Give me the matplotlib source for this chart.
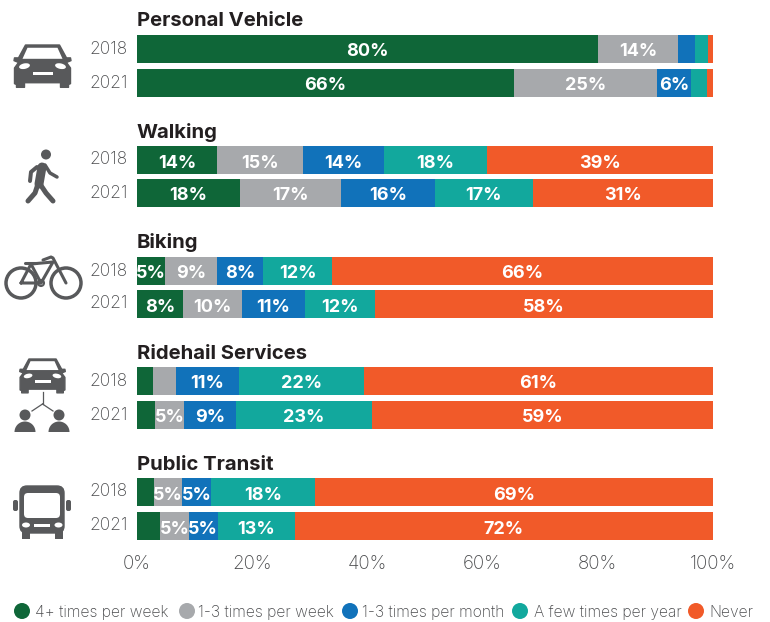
import matplotlib
matplotlib.use("Agg")
import matplotlib.pyplot as plt
from matplotlib.patches import Circle, Polygon, FancyBboxPatch, Ellipse, Wedge, Rectangle
from matplotlib.transforms import ScaledTranslation

W, H = 770, 622
modes = ["Personal Vehicle", "Walking", "Biking", "Ridehail Services", "Public Transit"]
years = ["2018", "2021"]
series = ["4+ times per week", "1-3 times per week", "1-3 times per month", "A few times per year", "Never"]
colors = ["#0f6638", "#a7a9ac", "#1172ba", "#12a89d", "#f15a29"]

# share of respondents per row, in series order
personal_2018 = [80.0, 13.9, 3.0, 2.3, 0.8]
personal_2021 = [65.5, 24.8, 5.9, 2.8, 1.0]
walking_2018 = [13.9, 14.9, 14.1, 17.9, 39.2]
walking_2021 = [17.9, 17.5, 16.3, 17.05, 31.25]
biking_2018 = [4.9, 9.0, 8.0, 12.0, 66.1]
biking_2021 = [8.0, 10.2, 11.0, 12.1, 58.7]
ridehail_2018 = [2.8, 4.0, 10.9, 21.7, 60.6]
ridehail_2021 = [3.1, 5.1, 9.0, 23.6, 59.2]
transit_2018 = [3.0, 4.8, 5.0, 18.1, 69.1]
transit_2021 = [4.0, 5.0, 5.0, 13.4, 72.6]

# printed labels (blank where the source prints none)
labels_personal_2018 = ["80%", "14%", "", "", ""]
labels_personal_2021 = ["66%", "25%", "6%", "", ""]
labels_walking_2018 = ["14%", "15%", "14%", "18%", "39%"]
labels_walking_2021 = ["18%", "17%", "16%", "17%", "31%"]
labels_biking_2018 = ["5%", "9%", "8%", "12%", "66%"]
labels_biking_2021 = ["8%", "10%", "11%", "12%", "58%"]
labels_ridehail_2018 = ["", "", "11%", "22%", "61%"]
labels_ridehail_2021 = ["", "5%", "9%", "23%", "59%"]
labels_transit_2018 = ["", "5%", "5%", "18%", "69%"]
labels_transit_2021 = ["", "5%", "5%", "13%", "72%"]

rows = [personal_2018, personal_2021, walking_2018, walking_2021, biking_2018,
        biking_2021, ridehail_2018, ridehail_2021, transit_2018, transit_2021]
row_labels = [labels_personal_2018, labels_personal_2021, labels_walking_2018, labels_walking_2021,
              labels_biking_2018, labels_biking_2021, labels_ridehail_2018, labels_ridehail_2021,
              labels_transit_2018, labels_transit_2021]

# layout, in figure pixels from the top
row_y = [49, 83, 160, 193, 271, 304, 381, 415, 492, 526]
heading_y = [21, 133, 243, 354, 465]
bar_h = 28
ICON = "#58595b"
TEXT = "#4a4b4d"
FONT = ["Inter", "DejaVu Sans"]

fig = plt.figure(figsize=(W / 100, H / 100), dpi=100, facecolor="white")
ax = fig.add_axes([137 / W, 1 - 540 / H, (713 - 137) / W, 540 / H])
ax.set_xlim(0, 100)
ax.set_ylim(540, 0)

for y, vals, labs in zip(row_y, rows, row_labels):
    left = 0.0
    for v, c, t in zip(vals, colors, labs):
        ax.barh(y, v, left=left, height=bar_h, color=c, linewidth=0)
        if t:
            ax.text(left + v / 2, y + 3, t, ha="center", va="center", color="white",
                    fontsize=13, fontweight="bold", family=FONT)
        left += v

for name, y in zip(modes, heading_y):
    ax.text(0, y, name, ha="left", va="center", color="#231f20", fontsize=14.6,
            fontweight="bold", family=FONT)

for s in ax.spines.values():
    s.set_visible(False)
ax.set_xticks([0, 20, 40, 60, 80, 100])
ax.set_xticklabels(["0%", "20%", "40%", "60%", "80%", "100%"], family=FONT, fontsize=13.5,
                   color=TEXT, fontweight="light")
ax.set_yticks(row_y)
ax.set_yticklabels(years * 5, family=FONT, fontsize=12.5, color=TEXT, fontweight="light")
ax.tick_params(axis="both", length=0)
ax.tick_params(axis="x", pad=11)
ax.tick_params(axis="y", pad=6.5)
up = ScaledTranslation(0, 2 / 100, fig.dpi_scale_trans)
for lab in ax.get_yticklabels():
    lab.set_transform(lab.get_transform() + up)

# overlay in pixel coordinates for pictograms and the legend
ov = fig.add_axes([0, 0, 1, 1], facecolor="none")
ov.set_xlim(0, W)
ov.set_ylim(H, 0)
ov.axis("off")


def car(cx, top, s):
    sy = s * 0.92
    pts = [(-17, 0), (17, 0), (24, 14), (28, 14), (28.5, 17), (24, 19), (28, 25), (28, 42),
           (26, 43), (26, 46), (18, 46), (18, 41), (-18, 41), (-18, 46), (-26, 46), (-26, 43),
           (-28, 42), (-28, 25), (-24, 19), (-28.5, 17), (-28, 14), (-24, 14)]
    ov.add_patch(Polygon([(cx + x * s, top + y * sy) for x, y in pts], closed=True, fc=ICON, ec=ICON,
                         lw=1, joinstyle="round"))
    ov.add_patch(Polygon([(cx + x * s, top + y * sy) for x, y in
                          [(-15, 3), (15, 3), (20, 15), (-20, 15)]], closed=True, fc="white", ec="none"))
    for sign in (-1, 1):
        ov.add_patch(Ellipse((cx + sign * 18 * s, top + 23 * sy), 11 * s, 6 * sy, angle=sign * 12,
                             fc="white", ec="none"))
    ov.add_patch(Rectangle((cx - 10 * s, top + 29 * sy), 20 * s, 4 * sy, fc="white", ec="none"))


car(42.5, 45, 1.0)
car(42.5, 359, 0.8)

# walker
ov.add_patch(Circle((46, 154.5), 5, fc=ICON, ec="none"))
for path, lw in [([(37, 167), (31, 172), (30, 181)], 4), ([(45, 165), (50, 173), (57, 177)], 3.5),
                 ([(42, 167), (39, 184)], 9), ([(38, 184), (35, 193), (28, 201)], 5),
                 ([(40, 184), (46, 193), (53, 201)], 5)]:
    ov.plot(*zip(*path), color=ICON, lw=lw * 0.72, solid_capstyle="round", solid_joinstyle="round")

# bicycle
for cx in (21, 66):
    ov.add_patch(Circle((cx, 283), 15, fc="none", ec=ICON, lw=2.5))
for path in [[(21, 283), (31, 264), (53, 262), (41, 283), (21, 283)], [(31, 264), (41, 283)],
             [(25, 263), (36, 263)], [(66, 283), (53, 258), (51, 257), (43, 260)]]:
    ov.plot(*zip(*path), color=ICON, lw=2.2, solid_capstyle="round", solid_joinstyle="round")
ov.add_patch(Circle((41, 283), 3, fc="white", ec=ICON, lw=1.5))

# ridehail connector and riders
for path in [[(42.5, 392), (42.5, 404)], [(42.5, 404), (32, 411)], [(42.5, 404), (53, 411)]]:
    ov.plot(*zip(*path), color=ICON, lw=0.9)
for cx in (25, 59):
    ov.add_patch(Circle((cx, 415), 5.5, fc=ICON, ec="none"))
    ov.add_patch(Wedge((cx, 432), 10.5, 180, 360, fc=ICON, ec="none", transform=ov.transData))

# bus
ov.add_patch(FancyBboxPatch((20, 486), 44, 47, boxstyle="round,pad=0,rounding_size=7", fc=ICON, ec=ICON, lw=1))
ov.add_patch(FancyBboxPatch((24, 493), 36, 25, boxstyle="round,pad=0,rounding_size=4", fc="white", ec="none"))
for x in (13, 66):
    ov.add_patch(FancyBboxPatch((x, 500), 5, 11, boxstyle="round,pad=0,rounding_size=2", fc=ICON, ec="none"))
for x in (22, 55):
    ov.add_patch(Rectangle((x, 531), 8, 7.5, fc=ICON, ec="none"))
for x in (26, 58.5):
    ov.add_patch(Ellipse((x, 525), 8, 5, fc="white", ec="none"))
ov.add_patch(Rectangle((34, 524), 16, 2.5, fc="white", ec="none"))

# legend
legend_dot_x = [22, 187, 350, 520, 696]
legend_text_x = [35, 198, 362, 534, 709]
for name, c, dx, tx in zip(series, colors, legend_dot_x, legend_text_x):
    ov.add_patch(Circle((dx, 611), 8, fc=c, ec="none"))
    ov.text(tx, 612.5, name, ha="left", va="center", color=TEXT, fontsize=11.3,
            family=FONT, fontweight="light")

fig.savefig("out.png", dpi=100)
